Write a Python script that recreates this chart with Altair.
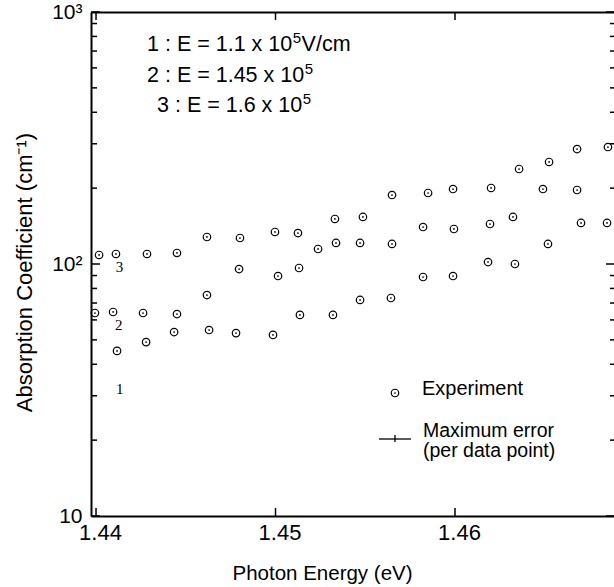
import altair as alt
import pandas as pd

# ---------------- data ----------------
s1_energy = [1.44117, 1.44279, 1.44435, 1.44630, 1.44780, 1.44986, 1.45136, 1.45320,
             1.45471, 1.45643, 1.45822, 1.45989, 1.46184, 1.46334, 1.46518, 1.46702, 1.46847]
s1_alpha = [45.2, 49.0, 53.7, 54.7, 53.2, 52.3, 62.8, 62.8,
            72.0, 73.3, 88.8, 89.6, 101.8, 100.0, 120.1, 145.5, 145.5]

s2_energy = [1.43994, 1.44095, 1.44262, 1.44451, 1.44618, 1.44797, 1.45014, 1.45131, 1.45237,
             1.45337, 1.45471, 1.45649, 1.45822, 1.45994, 1.46195, 1.46323, 1.46490, 1.46680]
s2_alpha = [63.9, 64.5, 63.9, 63.3, 75.3, 95.5, 89.6, 96.4, 114.7,
            121.2, 121.2, 120.1, 140.2, 137.7, 144.1, 153.7, 198.4, 196.6]

s3_energy = [1.44017, 1.44111, 1.44284, 1.44451, 1.44618, 1.44802, 1.44997, 1.45125, 1.45331,
             1.45487, 1.45649, 1.45850, 1.45989, 1.46201, 1.46357, 1.46524, 1.46680, 1.46852]
s3_alpha = [108.6, 109.6, 109.6, 110.6, 128.0, 126.8, 134.0, 132.7, 150.9,
            153.7, 187.8, 191.3, 198.4, 200.3, 238.2, 254.0, 285.9, 291.2]

series_label_text = ["1", "2", "3"]
series_label_energy = [1.44132, 1.44126, 1.44131]
series_label_alpha = [31.8, 57.3, 97.6]

x_tick_values = [1.44, 1.45, 1.46]
y_major_values = [10, 100, 1000]
y_minor_values = [20, 30, 40, 50, 60, 70, 80, 90, 200, 300, 400, 500, 600, 700, 800, 900]

annotation_main = ["1 : E = 1.1 x 10", "2 : E = 1.45 x 10", "3 : E = 1.6 x 10"]
annotation_sup = ["5", "5", "5"]
annotation_tail = ["V/cm", "", ""]
legend_texts = ["Experiment", "Maximum error", "(per data point)"]

# ---------------- tables ----------------
frames = []
for sid, xs_, ys_ in [("1", s1_energy, s1_alpha), ("2", s2_energy, s2_alpha), ("3", s3_energy, s3_alpha)]:
    frames.append(pd.DataFrame({"energy": xs_, "alpha": ys_, "series": sid}))
df = pd.concat(frames, ignore_index=True)

df_labels = pd.DataFrame({"energy": series_label_energy, "alpha": series_label_alpha, "t": series_label_text})
df_xt = pd.DataFrame({"v": x_tick_values})
df_ymaj = pd.DataFrame({"v": y_major_values})
df_ymin = pd.DataFrame({"v": y_minor_values})

W, H = 523, 504
FONT = "Liberation Sans"
xscale = alt.Scale(domain=[1.43972, 1.468858], nice=False, zero=False)
yscale = alt.Scale(type="log", domain=[10, 1000], nice=False)

x_bottom_axis = alt.Axis(
    values=x_tick_values, format=".2f", labelFontSize=22, labelOffset=4, labelPadding=6,
    labelColor="black", ticks=False, domain=True, domainColor="black", domainWidth=2,
    grid=False, title="Photon Energy (eV)", titleFontSize=20.5, titleFontWeight="normal",
    titleColor="black", titleX=231, titleY=63, titleBaseline="alphabetic",
    labelFont=FONT, titleFont=FONT,
)
y_left_axis = alt.Axis(
    values=y_major_values,
    labelExpr="datum.value == 1000 ? '10\u00b3' : (datum.value == 100 ? '10\u00b2' : '10')",
    labelFontSize=21, labelPadding=9, labelColor="black", ticks=False, domain=True,
    domainColor="black", domainWidth=2, grid=False,
    title="Absorption Coefficient (cm\u207b\u00b9)", titleFontSize=22, titleFontWeight="normal",
    titleColor="black", titleX=-67, titleY=260, titleBaseline="middle", titleAngle=270,
    labelFont=FONT, titleFont=FONT,
)

points = alt.Chart(df).mark_point(
    shape="circle", filled=False, size=56, stroke="black", strokeWidth=1.2, opacity=1
).encode(
    x=alt.X("energy:Q", scale=xscale, axis=x_bottom_axis),
    y=alt.Y("alpha:Q", scale=yscale, axis=y_left_axis),
)
dots = alt.Chart(df).mark_point(
    shape="circle", filled=True, size=3, color="black", opacity=1
).encode(
    x=alt.X("energy:Q", scale=xscale, axis=None),
    y=alt.Y("alpha:Q", scale=yscale, axis=None),
)

labels = alt.Chart(df_labels).mark_text(
    font="Liberation Serif", fontSize=15, color="black", align="center", baseline="middle"
).encode(
    x=alt.X("energy:Q", scale=xscale, axis=None),
    y=alt.Y("alpha:Q", scale=yscale, axis=None),
    text="t:N",
)

# inward ticks
left_major = alt.Chart(df_ymaj).mark_rule(color="black", strokeWidth=1.5).encode(
    y=alt.Y("v:Q", scale=yscale, axis=None), x=alt.value(0), x2=alt.value(9))
left_minor = alt.Chart(df_ymin).mark_rule(color="black", strokeWidth=1.5).encode(
    y=alt.Y("v:Q", scale=yscale, axis=None), x=alt.value(0), x2=alt.value(6))
right_major = alt.Chart(df_ymaj).mark_rule(color="black", strokeWidth=1.5).encode(
    y=alt.Y("v:Q", scale=yscale, axis=None), x=alt.value(W), x2=alt.value(W - 8))
right_minor = alt.Chart(df_ymin).mark_rule(color="black", strokeWidth=1.5).encode(
    y=alt.Y("v:Q", scale=yscale, axis=None), x=alt.value(W), x2=alt.value(W - 4))
bottom_ticks = alt.Chart(df_xt).mark_rule(color="black", strokeWidth=1.5).encode(
    x=alt.X("v:Q", scale=xscale, axis=None), y=alt.value(H), y2=alt.value(H - 8))
top_ticks = alt.Chart(df_xt).mark_rule(color="black", strokeWidth=1.5).encode(
    x=alt.X("v:Q", scale=xscale, axis=alt.Axis(
        orient="top", labels=False, ticks=False, domain=True, domainColor="black",
        domainWidth=2, grid=False, title=None)),
    y=alt.value(0), y2=alt.value(8))

one = alt.Data(values=[{}])

def txt(s, x, y, size=20, align="left", font=FONT):
    return alt.Chart(one).mark_text(
        text=s, font=font, fontSize=size, color="black", align=align, baseline="alphabetic"
    ).encode(x=alt.value(x), y=alt.value(y))

AF = 21.5   # annotation font size
SF = 15     # superscript font size
ann = []
ann_x = [56, 56, 66]
ann_y = [39, 70, 100]
main_em = [6.755, 7.311, 6.755]   # approx text widths in em for Liberation Sans
for i in range(3):
    ann.append(txt(annotation_main[i], ann_x[i], ann_y[i], size=AF))
    sx = ann_x[i] + main_em[i] * AF + 0.5
    ann.append(txt(annotation_sup[i], sx, ann_y[i] - 8, size=SF))
    if annotation_tail[i]:
        ann.append(txt(annotation_tail[i], sx + 0.556 * SF + 0.5, ann_y[i], size=AF))

ann += [
    txt(legend_texts[0], 331, 383, size=20),
    txt(legend_texts[1], 332, 425, size=19.5),
    txt(legend_texts[2], 332, 445, size=19.5),
]

leg_circle = alt.Chart(one).mark_point(
    shape="circle", filled=False, size=56, stroke="black", strokeWidth=1.2, opacity=1
).encode(x=alt.value(304), y=alt.value(381))
leg_dot = alt.Chart(one).mark_point(
    shape="circle", filled=True, size=3, color="black", opacity=1
).encode(x=alt.value(304), y=alt.value(381))
leg_err_h = alt.Chart(one).mark_rule(color="black", strokeWidth=1.3).encode(
    x=alt.value(288), x2=alt.value(320), y=alt.value(427))
leg_err_v = alt.Chart(one).mark_rule(color="black", strokeWidth=1.3).encode(
    x=alt.value(304), y=alt.value(423), y2=alt.value(430))

chart = alt.layer(
    points, dots, labels,
    left_major, left_minor, right_major, right_minor, bottom_ticks, top_ticks,
    *ann, leg_circle, leg_dot, leg_err_h, leg_err_v,
).resolve_axis(x="independent", y="independent").properties(
    width=W, height=H,
    padding={"left": 91, "top": 12, "right": 0, "bottom": 71},
    autosize=alt.AutoSizeParams(type="none"),
    background="white",
).configure_view(strokeWidth=0).configure(font=FONT)

chart.save("out.html", embed_options={"renderer": "svg", "actions": False})
